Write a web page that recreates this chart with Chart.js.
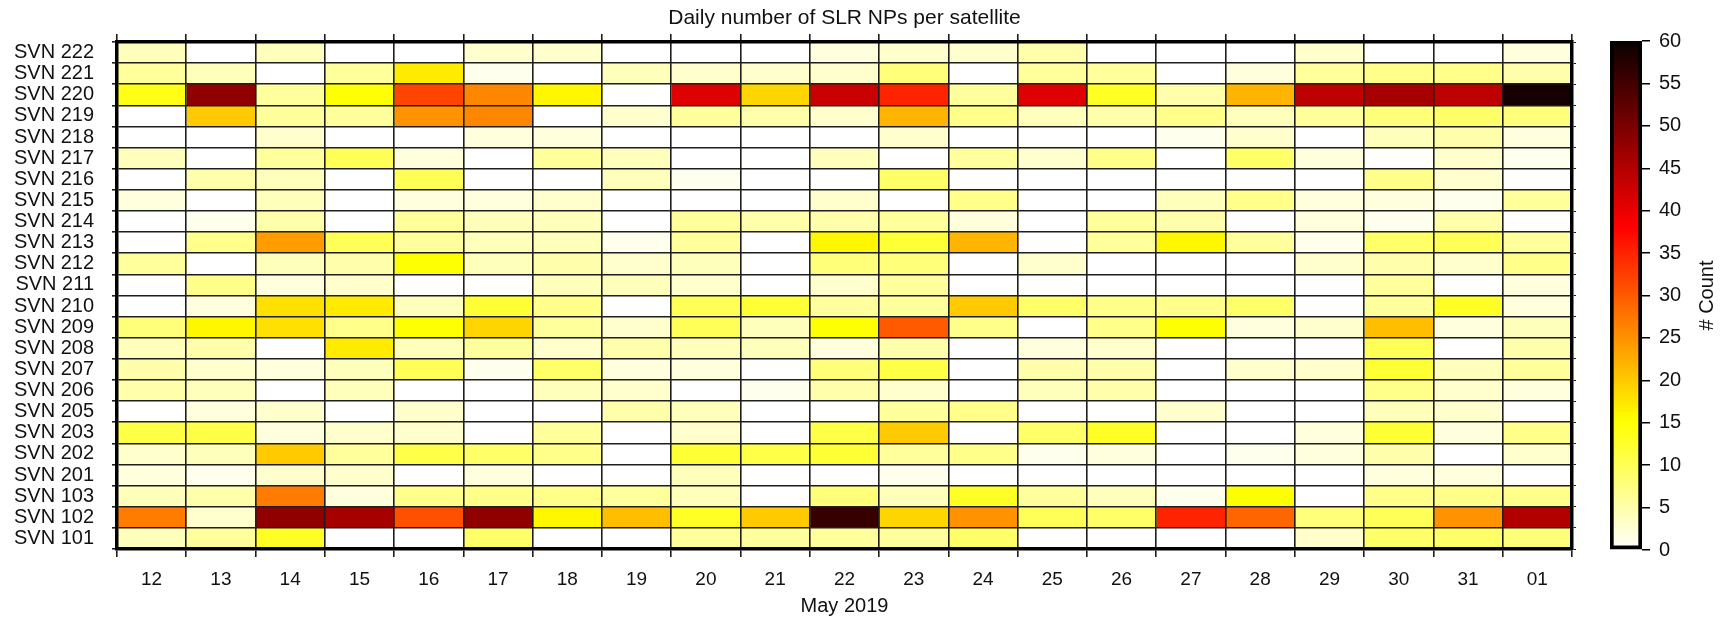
<!DOCTYPE html>
<html>
<head>
<meta charset="utf-8">
<script src="https://cdn.jsdelivr.net/npm/chart.js@4.4.1/dist/chart.umd.min.js"></script>
<style>
  html, body { margin: 0; padding: 0; background: #fff; }
  #wrap { position: relative; width: 1727px; height: 620px; }
  #heat { position: absolute; left: 0; top: 0; }
  #scale { position: absolute; left: 1590px; top: 0; }
</style>
</head>
<body>
<div id="wrap">
  <canvas id="heat" width="1590" height="620"></canvas>
  <canvas id="scale" width="137" height="620"></canvas>
</div>
<script>
// days of May 2019 (+ 1 June)
const days = ["12", "13", "14", "15", "16", "17", "18", "19", "20", "21", "22",
  "23", "24", "25", "26", "27", "28", "29", "30", "31", "01"];

const satellites = ["SVN 222", "SVN 221", "SVN 220", "SVN 219", "SVN 218", "SVN 217",
  "SVN 216", "SVN 215", "SVN 214", "SVN 213", "SVN 212", "SVN 211", "SVN 210",
  "SVN 209", "SVN 208", "SVN 207", "SVN 206", "SVN 205", "SVN 203", "SVN 202",
  "SVN 201", "SVN 103", "SVN 102", "SVN 101"];

// daily NP counts, one array per satellite (columns = days above)
const svn222 = [4, 0, 4, 0, 0, 3, 3, 0, 0, 0, 2, 3, 3, 5, 0, 0, 0, 3, 0, 0, 2];
const svn221 = [6, 4, 0, 6, 17, 1, 0, 4, 3, 3, 3, 8, 0, 6, 6, 0, 2, 6, 7, 7, 5];
const svn220 = [14, 48, 6, 15, 32, 26, 16, 0, 41, 19, 43, 35, 6, 41, 13, 5, 22, 44, 46, 44, 59];
const svn219 = [0, 20, 6, 6, 25, 26, 0, 3, 6, 5, 3, 22, 7, 4, 5, 7, 4, 6, 8, 9, 8];
const svn218 = [0, 0, 3, 0, 0, 2, 2, 0, 0, 0, 0, 3, 0, 0, 0, 1, 3, 0, 4, 5, 2];
const svn217 = [4, 0, 6, 10, 2, 0, 6, 4, 0, 0, 4, 0, 6, 3, 7, 0, 9, 2, 0, 3, 1];
const svn216 = [0, 5, 4, 0, 10, 0, 0, 4, 1, 0, 0, 9, 0, 0, 0, 0, 0, 0, 7, 3, 0];
const svn215 = [2, 0, 4, 0, 2, 2, 3, 0, 0, 0, 3, 0, 7, 0, 0, 4, 7, 2, 2, 1, 6];
const svn214 = [0, 1, 5, 0, 6, 4, 4, 0, 6, 5, 5, 6, 2, 0, 6, 5, 0, 2, 1, 5, 0];
const svn213 = [0, 7, 24, 10, 6, 4, 4, 1, 6, 0, 16, 12, 22, 0, 6, 16, 6, 1, 9, 10, 6];
const svn212 = [6, 0, 4, 5, 15, 4, 5, 3, 4, 0, 8, 8, 0, 3, 0, 0, 0, 3, 5, 3, 7];
const svn211 = [0, 7, 2, 3, 0, 0, 4, 4, 3, 0, 3, 6, 0, 0, 0, 0, 0, 0, 6, 0, 2];
const svn210 = [0, 2, 18, 17, 4, 12, 7, 0, 10, 12, 6, 6, 20, 9, 7, 7, 9, 0, 6, 13, 2];
const svn209 = [8, 16, 18, 7, 15, 19, 6, 3, 10, 4, 15, 30, 7, 0, 7, 15, 2, 3, 21, 2, 4];
const svn208 = [4, 5, 0, 17, 4, 6, 3, 5, 4, 4, 2, 5, 0, 2, 3, 0, 0, 0, 10, 0, 5];
const svn207 = [5, 3, 2, 4, 10, 1, 9, 2, 2, 0, 8, 11, 0, 5, 5, 0, 3, 3, 12, 4, 6];
const svn206 = [5, 4, 0, 4, 0, 0, 4, 3, 0, 1, 5, 3, 0, 4, 5, 0, 0, 0, 7, 3, 2];
const svn205 = [0, 2, 3, 0, 3, 0, 0, 5, 4, 0, 0, 6, 7, 0, 0, 3, 0, 0, 4, 3, 0];
const svn203 = [11, 11, 2, 3, 3, 0, 6, 0, 3, 0, 11, 20, 0, 9, 13, 0, 0, 2, 12, 2, 7];
const svn202 = [3, 4, 20, 6, 11, 9, 7, 0, 12, 11, 12, 6, 7, 1, 2, 0, 1, 2, 5, 0, 3];
const svn201 = [2, 1, 3, 3, 0, 2, 0, 0, 4, 0, 0, 1, 0, 0, 0, 0, 0, 0, 2, 2, 0];
const svn103 = [4, 5, 27, 2, 7, 7, 7, 6, 4, 0, 8, 4, 13, 6, 4, 1, 15, 0, 7, 7, 7];
const svn102 = [27, 3, 48, 46, 31, 48, 16, 21, 13, 20, 56, 19, 25, 10, 9, 35, 29, 8, 10, 25, 45];
const svn101 = [4, 6, 13, 0, 0, 9, 0, 0, 6, 6, 6, 6, 9, 0, 0, 0, 0, 3, 9, 9, 8];

// colour scale range and ticks
const countMin = 0;
const countMax = 60;
const countStep = 5;

const rows = [svn222, svn221, svn220, svn219, svn218, svn217, svn216, svn215,
  svn214, svn213, svn212, svn211, svn210, svn209, svn208, svn207, svn206,
  svn205, svn203, svn202, svn201, svn103, svn102, svn101];

// reversed "hot" colour map: white -> yellow -> red -> black
function hotR(v) {
  const t = 1 - (v - countMin) / (countMax - countMin);
  const clamp = (x) => Math.max(0, Math.min(1, x));
  const r = clamp(0.0416 + (1 - 0.0416) * t / 0.365);
  const g = clamp((t - 0.365) / 0.381);
  const b = clamp((t - 0.746) / 0.254);
  return `rgb(${Math.round(r * 255)}, ${Math.round(g * 255)}, ${Math.round(b * 255)})`;
}

Chart.defaults.font.family = "'Liberation Sans', Arial, Helvetica, sans-serif";
Chart.defaults.font.size = 19;
Chart.defaults.color = "#111";

const gridColor = "#1e1e1e";

// one dataset per day, each cell is a floating bar [d, d+1]
const datasets = days.map((day, d) => ({
  label: day,
  data: rows.map(() => [d, d + 1]),
  backgroundColor: rows.map((r) => hotR(r[d])),
  borderWidth: 0,
  barPercentage: 1,
  categoryPercentage: 1,
  grouped: false,
}));

new Chart(document.getElementById("heat"), {
  type: "bar",
  data: { labels: satellites, datasets: datasets },
  options: {
    responsive: false,
    animation: false,
    indexAxis: "y",
    layout: { padding: 0 },
    plugins: {
      legend: { display: false },
      tooltip: { enabled: false },
      title: {
        display: true,
        text: "Daily number of SLR NPs per satellite",
        fullSize: false,
        color: "#111",
        font: { size: 21, weight: "normal" },
        padding: { top: 6, bottom: 2.8 },
      },
    },
    scales: {
      x: {
        type: "linear",
        position: "bottom",
        min: 0,
        max: days.length,
        grid: { color: gridColor, lineWidth: 1.6, tickLength: 8, z: 1 },
        border: { color: "#000", width: 3.5, z: 2 },
        ticks: {
          stepSize: 1,
          autoSkip: false,
          maxRotation: 0,
          labelOffset: 34.6,
          padding: 11,
          callback: (v) => (days[v] !== undefined ? days[v] : ""),
        },
        title: {
          display: true,
          text: "May 2019",
          color: "#111",
          font: { size: 20 },
          padding: { top: 0, bottom: 2 },
        },
        afterFit: (s) => { s.height = 71; },
      },
      x2: {
        type: "linear",
        position: "top",
        min: 0,
        max: days.length,
        grid: { drawOnChartArea: false, color: gridColor, lineWidth: 1.6, tickLength: 8 },
        border: { color: "#000", width: 3.5, z: 2 },
        ticks: { display: false, stepSize: 1 },
        afterFit: (s) => { s.height = 8; },
      },
      y: {
        type: "category",
        position: "left",
        grid: { color: gridColor, lineWidth: 1.6, tickLength: 5, z: 1, offset: true },
        border: { color: "#000", width: 3.5, z: 2 },
        ticks: { autoSkip: false, padding: 18, font: { size: 20 } },
        afterFit: (s) => { s.width = 117; },
      },
      y2: {
        type: "category",
        position: "right",
        offset: true,
        grid: { drawOnChartArea: false, offset: true, color: gridColor, tickLength: 4 },
        border: { color: "#000", width: 3.5, z: 2 },
        ticks: { display: false },
        afterFit: (s) => { s.width = 18; },
      },
    },
  },
});

// colour bar
const countTitle = {
  id: "countTitle",
  afterDraw(chart) {
    const { ctx, chartArea } = chart;
    ctx.save();
    ctx.translate(117, (chartArea.top + chartArea.bottom) / 2);
    ctx.rotate(-Math.PI / 2);
    ctx.textAlign = "center";
    ctx.textBaseline = "middle";
    ctx.fillStyle = "#111";
    ctx.font = "20px 'Liberation Sans', Arial, sans-serif";
    ctx.fillText("# Count", 0, 0);
    ctx.restore();
  },
};

new Chart(document.getElementById("scale"), {
  type: "bar",
  data: {
    labels: ["count"],
    datasets: [{
      data: [[countMin, countMax]],
      backgroundColor: (c) => {
        const area = c.chart.chartArea;
        if (!area) return null;
        const g = c.chart.ctx.createLinearGradient(0, area.bottom, 0, area.top);
        for (let v = countMin; v <= countMax; v += 1) {
          g.addColorStop((v - countMin) / (countMax - countMin), hotR(v));
        }
        return g;
      },
      borderColor: "#000",
      borderWidth: 4,
      borderSkipped: false,
      barPercentage: 1,
      categoryPercentage: 1,
    }],
  },
  options: {
    responsive: false,
    animation: false,
    layout: { padding: { left: 20, top: 41, bottom: 70 } },
    plugins: { legend: { display: false }, tooltip: { enabled: false } },
    scales: {
      x: { display: false },
      y: {
        position: "right",
        min: countMin,
        max: countMax,
        ticks: { stepSize: countStep, padding: 9, font: { size: 20 } },
        grid: { drawOnChartArea: false, color: "#000", lineWidth: 1.5, tickLength: 8 },
        border: { display: false },
        afterFit: (s) => { s.width = 85; },
      },
    },
  },
  plugins: [countTitle],
});
</script>
</body>
</html>
